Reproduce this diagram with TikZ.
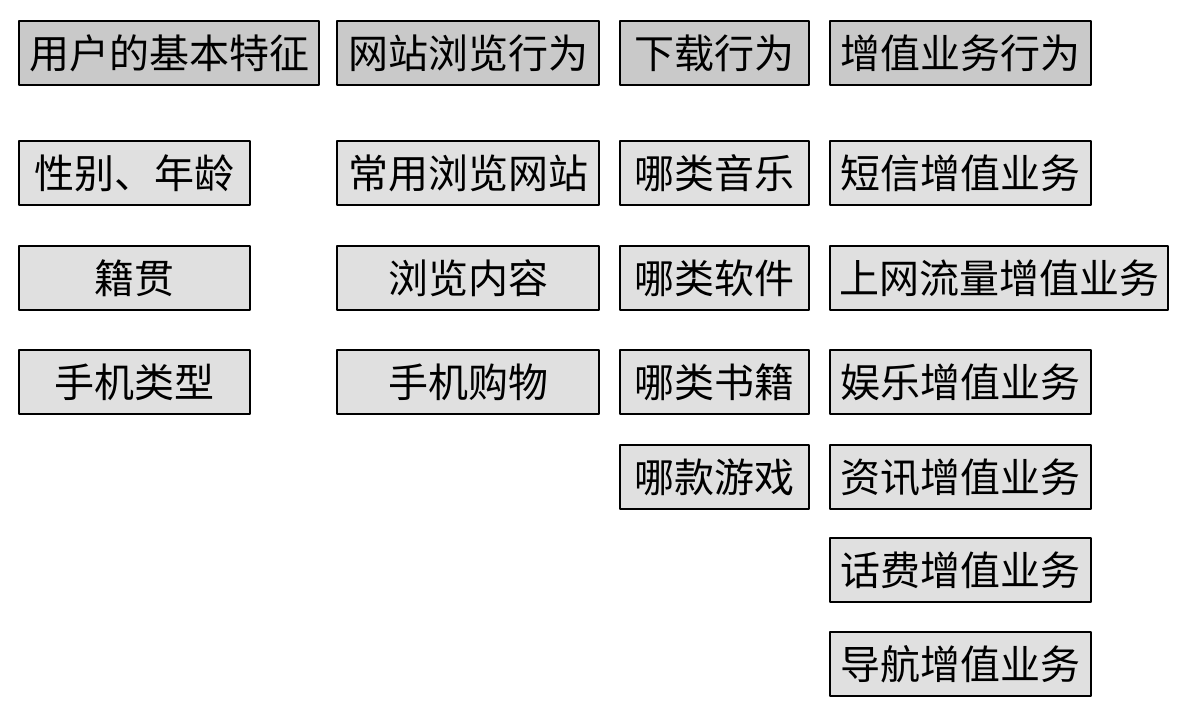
\documentclass[tikz,border=0pt]{standalone}
\usepackage{fontspec}
\setmainfont{Noto Sans CJK SC}
\begin{document}
\begin{tikzpicture}[x=1pt, y=-1pt, line join=round,
		box/.style={draw, line width=2.2pt, anchor=north west, inner sep=0pt, minimum height=64pt, font=\fontsize{40}{40}\selectfont},
		head/.style={box, fill=gray!42},
		item/.style={box, fill=gray!24}]
	\useasboundingbox (0,0) rectangle (1194,707);
	% header row
	\foreach \n/\t/\x/\w in {user/用户的基本特征/18/300, web/网站浏览行为/336/262, down/下载行为/619/189, vas/增值业务行为/829/261}
	\node[head, minimum width=\w pt] (\n) at (\x,20) {\t};
	% first column
	\foreach \n/\t/\y in {sex/性别、年龄/140, home/籍贯/245, phone/手机类型/349}
	\node[item, minimum width=231pt] (\n) at (18,\y) {\t};
	% second column
	\foreach \n/\t/\y in {site/常用浏览网站/140, cont/浏览内容/245, shop/手机购物/349}
	\node[item, minimum width=262pt] (\n) at (336,\y) {\t};
	% third column
	\foreach \n/\t/\y in {music/哪类音乐/140, soft/哪类软件/245, book/哪类书籍/349, game/哪款游戏/444}
	\node[item, minimum width=189pt] (\n) at (619,\y) {\t};
	% fourth column
	\foreach \n/\t/\y/\w in {sms/短信增值业务/140/261, flow/上网流量增值业务/245/338, fun/娱乐增值业务/349/261, news/资讯增值业务/444/261, fee/话费增值业务/537/261, nav/导航增值业务/631/261}
	\node[item, minimum width=\w pt] (\n) at (829,\y) {\t};
\end{tikzpicture}
\end{document}
